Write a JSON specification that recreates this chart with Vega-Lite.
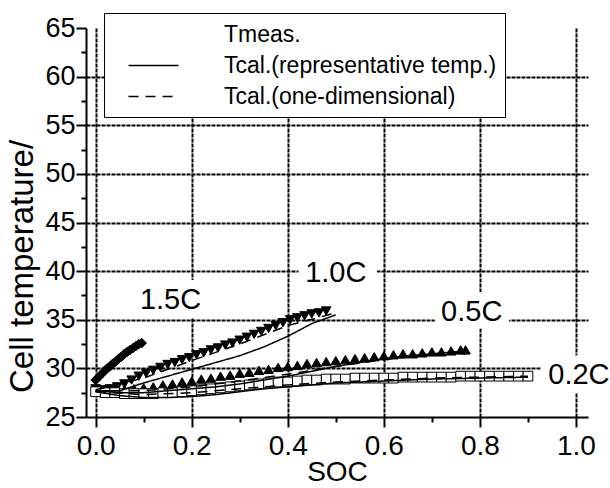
{
  "$schema": "https://vega.github.io/schema/vega-lite/v6.json",
  "width": 502,
  "height": 389,
  "autosize": {"type": "none"},
  "padding": {"left": 86, "top": 28, "right": 22, "bottom": 71},
  "background": "white",
  "config": {
    "font": "Liberation Sans",
    "view": {"stroke": null},
    "axis": {
      "domainColor": "black", "domainWidth": 2, "tickColor": "black", "tickWidth": 2,
      "labelColor": "black", "titleColor": "black", "titleFontWeight": "normal",
      "labelFont": "Liberation Sans", "titleFont": "Liberation Sans",
      "gridColor": "black", "gridWidth": 2, "gridDash": [4, 1], "gridOpacity": 1
    }
  },
  "resolve": {"axis": {"x": "independent", "y": "independent"}},
  "datasets": {
    "meas": [
      {"rate": "1.5C", "soc": 0.000, "T": 28.8},
      {"rate": "1.5C", "soc": 0.006, "T": 29.1},
      {"rate": "1.5C", "soc": 0.012, "T": 29.4},
      {"rate": "1.5C", "soc": 0.018, "T": 29.7},
      {"rate": "1.5C", "soc": 0.024, "T": 30.0},
      {"rate": "1.5C", "soc": 0.030, "T": 30.2},
      {"rate": "1.5C", "soc": 0.036, "T": 30.5},
      {"rate": "1.5C", "soc": 0.042, "T": 30.7},
      {"rate": "1.5C", "soc": 0.048, "T": 31.0},
      {"rate": "1.5C", "soc": 0.054, "T": 31.2},
      {"rate": "1.5C", "soc": 0.060, "T": 31.5},
      {"rate": "1.5C", "soc": 0.066, "T": 31.7},
      {"rate": "1.5C", "soc": 0.072, "T": 31.9},
      {"rate": "1.5C", "soc": 0.078, "T": 32.1},
      {"rate": "1.5C", "soc": 0.084, "T": 32.3},
      {"rate": "1.5C", "soc": 0.090, "T": 32.5},
      {"rate": "1.5C", "soc": 0.096, "T": 32.6},
      {"rate": "1.0C", "soc": 0.000, "T": 27.9},
      {"rate": "1.0C", "soc": 0.015, "T": 27.8},
      {"rate": "1.0C", "soc": 0.030, "T": 27.9},
      {"rate": "1.0C", "soc": 0.045, "T": 28.1},
      {"rate": "1.0C", "soc": 0.060, "T": 28.4},
      {"rate": "1.0C", "soc": 0.075, "T": 28.8},
      {"rate": "1.0C", "soc": 0.090, "T": 29.2},
      {"rate": "1.0C", "soc": 0.105, "T": 29.5},
      {"rate": "1.0C", "soc": 0.120, "T": 29.8},
      {"rate": "1.0C", "soc": 0.135, "T": 30.1},
      {"rate": "1.0C", "soc": 0.150, "T": 30.4},
      {"rate": "1.0C", "soc": 0.165, "T": 30.6},
      {"rate": "1.0C", "soc": 0.180, "T": 30.9},
      {"rate": "1.0C", "soc": 0.195, "T": 31.1},
      {"rate": "1.0C", "soc": 0.210, "T": 31.4},
      {"rate": "1.0C", "soc": 0.225, "T": 31.6},
      {"rate": "1.0C", "soc": 0.240, "T": 31.9},
      {"rate": "1.0C", "soc": 0.255, "T": 32.1},
      {"rate": "1.0C", "soc": 0.270, "T": 32.4},
      {"rate": "1.0C", "soc": 0.285, "T": 32.6},
      {"rate": "1.0C", "soc": 0.300, "T": 32.9},
      {"rate": "1.0C", "soc": 0.315, "T": 33.2},
      {"rate": "1.0C", "soc": 0.330, "T": 33.5},
      {"rate": "1.0C", "soc": 0.345, "T": 33.8},
      {"rate": "1.0C", "soc": 0.360, "T": 34.1},
      {"rate": "1.0C", "soc": 0.375, "T": 34.4},
      {"rate": "1.0C", "soc": 0.390, "T": 34.7},
      {"rate": "1.0C", "soc": 0.405, "T": 35.0},
      {"rate": "1.0C", "soc": 0.420, "T": 35.2},
      {"rate": "1.0C", "soc": 0.435, "T": 35.4},
      {"rate": "1.0C", "soc": 0.450, "T": 35.6},
      {"rate": "1.0C", "soc": 0.465, "T": 35.7},
      {"rate": "1.0C", "soc": 0.480, "T": 35.9},
      {"rate": "0.5C", "soc": 0.00, "T": 27.7},
      {"rate": "0.5C", "soc": 0.02, "T": 27.7},
      {"rate": "0.5C", "soc": 0.04, "T": 27.7},
      {"rate": "0.5C", "soc": 0.06, "T": 27.8},
      {"rate": "0.5C", "soc": 0.08, "T": 27.9},
      {"rate": "0.5C", "soc": 0.10, "T": 28.0},
      {"rate": "0.5C", "soc": 0.12, "T": 28.1},
      {"rate": "0.5C", "soc": 0.14, "T": 28.3},
      {"rate": "0.5C", "soc": 0.16, "T": 28.4},
      {"rate": "0.5C", "soc": 0.18, "T": 28.6},
      {"rate": "0.5C", "soc": 0.20, "T": 28.7},
      {"rate": "0.5C", "soc": 0.22, "T": 28.9},
      {"rate": "0.5C", "soc": 0.24, "T": 29.0},
      {"rate": "0.5C", "soc": 0.26, "T": 29.2},
      {"rate": "0.5C", "soc": 0.28, "T": 29.3},
      {"rate": "0.5C", "soc": 0.30, "T": 29.5},
      {"rate": "0.5C", "soc": 0.32, "T": 29.6},
      {"rate": "0.5C", "soc": 0.34, "T": 29.8},
      {"rate": "0.5C", "soc": 0.36, "T": 29.9},
      {"rate": "0.5C", "soc": 0.38, "T": 30.1},
      {"rate": "0.5C", "soc": 0.40, "T": 30.2},
      {"rate": "0.5C", "soc": 0.42, "T": 30.3},
      {"rate": "0.5C", "soc": 0.44, "T": 30.5},
      {"rate": "0.5C", "soc": 0.46, "T": 30.6},
      {"rate": "0.5C", "soc": 0.48, "T": 30.7},
      {"rate": "0.5C", "soc": 0.50, "T": 30.8},
      {"rate": "0.5C", "soc": 0.52, "T": 30.9},
      {"rate": "0.5C", "soc": 0.54, "T": 31.0},
      {"rate": "0.5C", "soc": 0.56, "T": 31.1},
      {"rate": "0.5C", "soc": 0.58, "T": 31.2},
      {"rate": "0.5C", "soc": 0.60, "T": 31.3},
      {"rate": "0.5C", "soc": 0.62, "T": 31.4},
      {"rate": "0.5C", "soc": 0.64, "T": 31.5},
      {"rate": "0.5C", "soc": 0.66, "T": 31.5},
      {"rate": "0.5C", "soc": 0.68, "T": 31.6},
      {"rate": "0.5C", "soc": 0.70, "T": 31.7},
      {"rate": "0.5C", "soc": 0.72, "T": 31.7},
      {"rate": "0.5C", "soc": 0.74, "T": 31.8},
      {"rate": "0.5C", "soc": 0.76, "T": 31.9},
      {"rate": "0.5C", "soc": 0.77, "T": 31.9},
      {"rate": "0.2C", "soc": 0.00, "T": 27.6},
      {"rate": "0.2C", "soc": 0.02, "T": 27.5},
      {"rate": "0.2C", "soc": 0.04, "T": 27.5},
      {"rate": "0.2C", "soc": 0.06, "T": 27.4},
      {"rate": "0.2C", "soc": 0.08, "T": 27.4},
      {"rate": "0.2C", "soc": 0.10, "T": 27.4},
      {"rate": "0.2C", "soc": 0.12, "T": 27.4},
      {"rate": "0.2C", "soc": 0.14, "T": 27.5},
      {"rate": "0.2C", "soc": 0.16, "T": 27.5},
      {"rate": "0.2C", "soc": 0.18, "T": 27.6},
      {"rate": "0.2C", "soc": 0.20, "T": 27.7},
      {"rate": "0.2C", "soc": 0.22, "T": 27.8},
      {"rate": "0.2C", "soc": 0.24, "T": 27.9},
      {"rate": "0.2C", "soc": 0.26, "T": 28.0},
      {"rate": "0.2C", "soc": 0.28, "T": 28.1},
      {"rate": "0.2C", "soc": 0.30, "T": 28.2},
      {"rate": "0.2C", "soc": 0.32, "T": 28.3},
      {"rate": "0.2C", "soc": 0.34, "T": 28.4},
      {"rate": "0.2C", "soc": 0.36, "T": 28.5},
      {"rate": "0.2C", "soc": 0.38, "T": 28.6},
      {"rate": "0.2C", "soc": 0.40, "T": 28.6},
      {"rate": "0.2C", "soc": 0.42, "T": 28.7},
      {"rate": "0.2C", "soc": 0.44, "T": 28.8},
      {"rate": "0.2C", "soc": 0.46, "T": 28.8},
      {"rate": "0.2C", "soc": 0.48, "T": 28.9},
      {"rate": "0.2C", "soc": 0.50, "T": 28.9},
      {"rate": "0.2C", "soc": 0.52, "T": 28.9},
      {"rate": "0.2C", "soc": 0.54, "T": 29.0},
      {"rate": "0.2C", "soc": 0.56, "T": 29.0},
      {"rate": "0.2C", "soc": 0.58, "T": 29.0},
      {"rate": "0.2C", "soc": 0.60, "T": 29.0},
      {"rate": "0.2C", "soc": 0.62, "T": 29.0},
      {"rate": "0.2C", "soc": 0.64, "T": 29.1},
      {"rate": "0.2C", "soc": 0.66, "T": 29.1},
      {"rate": "0.2C", "soc": 0.68, "T": 29.1},
      {"rate": "0.2C", "soc": 0.70, "T": 29.1},
      {"rate": "0.2C", "soc": 0.72, "T": 29.1},
      {"rate": "0.2C", "soc": 0.74, "T": 29.1},
      {"rate": "0.2C", "soc": 0.76, "T": 29.2},
      {"rate": "0.2C", "soc": 0.78, "T": 29.2},
      {"rate": "0.2C", "soc": 0.80, "T": 29.2},
      {"rate": "0.2C", "soc": 0.82, "T": 29.2},
      {"rate": "0.2C", "soc": 0.84, "T": 29.2},
      {"rate": "0.2C", "soc": 0.86, "T": 29.2},
      {"rate": "0.2C", "soc": 0.88, "T": 29.2},
      {"rate": "0.2C", "soc": 0.90, "T": 29.2}
    ],
    "calc": [
      {"rate": "1.5C", "method": "Tcal.(representative temp.)", "soc": 0.00, "T": 28.6},
      {"rate": "1.5C", "method": "Tcal.(representative temp.)", "soc": 0.05, "T": 30.8},
      {"rate": "1.5C", "method": "Tcal.(representative temp.)", "soc": 0.10, "T": 32.6},
      {"rate": "1.5C", "method": "Tcal.(one-dimensional)", "soc": 0.00, "T": 28.7},
      {"rate": "1.5C", "method": "Tcal.(one-dimensional)", "soc": 0.05, "T": 31.0},
      {"rate": "1.5C", "method": "Tcal.(one-dimensional)", "soc": 0.10, "T": 32.7},
      {"rate": "1.0C", "method": "Tcal.(representative temp.)", "soc": 0.00, "T": 27.7},
      {"rate": "1.0C", "method": "Tcal.(representative temp.)", "soc": 0.05, "T": 27.7},
      {"rate": "1.0C", "method": "Tcal.(representative temp.)", "soc": 0.10, "T": 28.5},
      {"rate": "1.0C", "method": "Tcal.(representative temp.)", "soc": 0.15, "T": 29.2},
      {"rate": "1.0C", "method": "Tcal.(representative temp.)", "soc": 0.20, "T": 29.9},
      {"rate": "1.0C", "method": "Tcal.(representative temp.)", "soc": 0.25, "T": 30.6},
      {"rate": "1.0C", "method": "Tcal.(representative temp.)", "soc": 0.30, "T": 31.3},
      {"rate": "1.0C", "method": "Tcal.(representative temp.)", "soc": 0.35, "T": 32.2},
      {"rate": "1.0C", "method": "Tcal.(representative temp.)", "soc": 0.40, "T": 33.3},
      {"rate": "1.0C", "method": "Tcal.(representative temp.)", "soc": 0.45, "T": 34.6},
      {"rate": "1.0C", "method": "Tcal.(representative temp.)", "soc": 0.50, "T": 35.5},
      {"rate": "1.0C", "method": "Tcal.(one-dimensional)", "soc": 0.00, "T": 27.8},
      {"rate": "1.0C", "method": "Tcal.(one-dimensional)", "soc": 0.10, "T": 29.0},
      {"rate": "1.0C", "method": "Tcal.(one-dimensional)", "soc": 0.20, "T": 30.8},
      {"rate": "1.0C", "method": "Tcal.(one-dimensional)", "soc": 0.30, "T": 32.5},
      {"rate": "1.0C", "method": "Tcal.(one-dimensional)", "soc": 0.40, "T": 34.4},
      {"rate": "1.0C", "method": "Tcal.(one-dimensional)", "soc": 0.50, "T": 35.7},
      {"rate": "0.5C", "method": "Tcal.(representative temp.)", "soc": 0.00, "T": 27.7},
      {"rate": "0.5C", "method": "Tcal.(representative temp.)", "soc": 0.05, "T": 27.5},
      {"rate": "0.5C", "method": "Tcal.(representative temp.)", "soc": 0.10, "T": 27.5},
      {"rate": "0.5C", "method": "Tcal.(representative temp.)", "soc": 0.15, "T": 27.7},
      {"rate": "0.5C", "method": "Tcal.(representative temp.)", "soc": 0.20, "T": 27.9},
      {"rate": "0.5C", "method": "Tcal.(representative temp.)", "soc": 0.25, "T": 28.1},
      {"rate": "0.5C", "method": "Tcal.(representative temp.)", "soc": 0.30, "T": 28.4},
      {"rate": "0.5C", "method": "Tcal.(representative temp.)", "soc": 0.35, "T": 28.8},
      {"rate": "0.5C", "method": "Tcal.(representative temp.)", "soc": 0.40, "T": 29.2},
      {"rate": "0.5C", "method": "Tcal.(representative temp.)", "soc": 0.45, "T": 29.7},
      {"rate": "0.5C", "method": "Tcal.(representative temp.)", "soc": 0.50, "T": 30.2},
      {"rate": "0.5C", "method": "Tcal.(representative temp.)", "soc": 0.55, "T": 30.6},
      {"rate": "0.5C", "method": "Tcal.(representative temp.)", "soc": 0.60, "T": 31.0},
      {"rate": "0.5C", "method": "Tcal.(representative temp.)", "soc": 0.65, "T": 31.3},
      {"rate": "0.5C", "method": "Tcal.(representative temp.)", "soc": 0.70, "T": 31.5},
      {"rate": "0.5C", "method": "Tcal.(representative temp.)", "soc": 0.77, "T": 31.8},
      {"rate": "0.5C", "method": "Tcal.(one-dimensional)", "soc": 0.00, "T": 27.7},
      {"rate": "0.5C", "method": "Tcal.(one-dimensional)", "soc": 0.10, "T": 27.7},
      {"rate": "0.5C", "method": "Tcal.(one-dimensional)", "soc": 0.20, "T": 28.1},
      {"rate": "0.5C", "method": "Tcal.(one-dimensional)", "soc": 0.30, "T": 28.7},
      {"rate": "0.5C", "method": "Tcal.(one-dimensional)", "soc": 0.40, "T": 29.4},
      {"rate": "0.5C", "method": "Tcal.(one-dimensional)", "soc": 0.50, "T": 30.2},
      {"rate": "0.5C", "method": "Tcal.(one-dimensional)", "soc": 0.60, "T": 30.9},
      {"rate": "0.5C", "method": "Tcal.(one-dimensional)", "soc": 0.70, "T": 31.4},
      {"rate": "0.5C", "method": "Tcal.(one-dimensional)", "soc": 0.77, "T": 31.7},
      {"rate": "0.2C", "method": "Tcal.(representative temp.)", "soc": 0.00, "T": 27.6},
      {"rate": "0.2C", "method": "Tcal.(representative temp.)", "soc": 0.05, "T": 27.2},
      {"rate": "0.2C", "method": "Tcal.(representative temp.)", "soc": 0.10, "T": 27.0},
      {"rate": "0.2C", "method": "Tcal.(representative temp.)", "soc": 0.15, "T": 27.0},
      {"rate": "0.2C", "method": "Tcal.(representative temp.)", "soc": 0.20, "T": 27.1},
      {"rate": "0.2C", "method": "Tcal.(representative temp.)", "soc": 0.25, "T": 27.3},
      {"rate": "0.2C", "method": "Tcal.(representative temp.)", "soc": 0.30, "T": 27.6},
      {"rate": "0.2C", "method": "Tcal.(representative temp.)", "soc": 0.35, "T": 27.9},
      {"rate": "0.2C", "method": "Tcal.(representative temp.)", "soc": 0.40, "T": 28.1},
      {"rate": "0.2C", "method": "Tcal.(representative temp.)", "soc": 0.45, "T": 28.3},
      {"rate": "0.2C", "method": "Tcal.(representative temp.)", "soc": 0.50, "T": 28.5},
      {"rate": "0.2C", "method": "Tcal.(representative temp.)", "soc": 0.60, "T": 28.7},
      {"rate": "0.2C", "method": "Tcal.(representative temp.)", "soc": 0.70, "T": 28.9},
      {"rate": "0.2C", "method": "Tcal.(representative temp.)", "soc": 0.80, "T": 29.0},
      {"rate": "0.2C", "method": "Tcal.(representative temp.)", "soc": 0.90, "T": 29.1},
      {"rate": "0.2C", "method": "Tcal.(one-dimensional)", "soc": 0.00, "T": 27.6},
      {"rate": "0.2C", "method": "Tcal.(one-dimensional)", "soc": 0.10, "T": 27.3},
      {"rate": "0.2C", "method": "Tcal.(one-dimensional)", "soc": 0.20, "T": 27.5},
      {"rate": "0.2C", "method": "Tcal.(one-dimensional)", "soc": 0.30, "T": 27.9},
      {"rate": "0.2C", "method": "Tcal.(one-dimensional)", "soc": 0.40, "T": 28.3},
      {"rate": "0.2C", "method": "Tcal.(one-dimensional)", "soc": 0.50, "T": 28.6},
      {"rate": "0.2C", "method": "Tcal.(one-dimensional)", "soc": 0.60, "T": 28.8},
      {"rate": "0.2C", "method": "Tcal.(one-dimensional)", "soc": 0.70, "T": 29.0},
      {"rate": "0.2C", "method": "Tcal.(one-dimensional)", "soc": 0.80, "T": 29.1},
      {"rate": "0.2C", "method": "Tcal.(one-dimensional)", "soc": 0.90, "T": 29.2}
    ],
    "labels": [
      {"label": "1.5C", "soc": 0.156, "T": 37.0},
      {"label": "1.0C", "soc": 0.50, "T": 39.8},
      {"label": "0.5C", "soc": 0.783, "T": 35.8},
      {"label": "0.2C", "soc": 1.006, "T": 29.3}
    ]
  },
  "layer": [
    {
      "data": {"name": "meas"},
      "mark": {"type": "point", "filled": true, "stroke": "black", "strokeWidth": 1, "opacity": 1},
      "encoding": {
        "x": {
          "field": "soc", "type": "quantitative",
          "scale": {"domain": [-0.02, 1.025], "nice": false, "zero": false},
          "axis": {
            "values": [0, 0.2, 0.4, 0.6, 0.8, 1.0], "format": ".1f",
            "labelFontSize": 28, "tickSize": 10, "labelPadding": 5,
            "title": "SOC", "titleFontSize": 28, "titlePadding": -2,
            "grid": true
          }
        },
        "y": {
          "field": "T", "type": "quantitative",
          "scale": {"domain": [25, 65], "nice": false, "zero": false},
          "axis": {
            "values": [25, 30, 35, 40, 45, 50, 55, 60, 65],
            "labelFontSize": 27, "tickSize": 10, "labelPadding": 1,
            "title": "Cell temperature/", "titleFontSize": 33,
            "titleAngle": 270, "titleAlign": "center", "titleBaseline": "middle",
            "titleX": -64, "titleY": 238,
            "grid": true,
            "gridOpacity": {"condition": {"test": "datum.value === 25 || datum.value === 65", "value": 0}, "value": 1}
          }
        },
        "shape": {
          "field": "rate", "type": "nominal",
          "scale": {"domain": ["1.5C", "1.0C", "0.5C", "0.2C"], "range": ["diamond", "triangle-down", "triangle-up", "square"]},
          "legend": null
        },
        "size": {
          "field": "rate", "type": "nominal",
          "scale": {"domain": ["1.5C", "1.0C", "0.5C", "0.2C"], "range": [90, 95, 90, 32]},
          "legend": null
        },
        "fill": {
          "condition": {"test": "datum.rate === '0.2C'", "value": "white"},
          "value": "black"
        }
      }
    },
    {
      "data": {"name": "labels"},
      "mark": {"type": "point", "opacity": 0},
      "encoding": {
        "x": {
          "field": "soc", "type": "quantitative",
          "axis": {
            "orient": "bottom", "values": [0.1, 0.3, 0.5, 0.7, 0.9], "labels": false,
            "domain": false, "grid": false, "tickSize": 5, "title": null
          }
        },
        "y": {
          "field": "T", "type": "quantitative",
          "axis": {
            "orient": "left", "values": [27.5, 32.5, 37.5, 42.5, 47.5, 52.5, 57.5, 62.5], "labels": false,
            "domain": false, "grid": false, "tickSize": 5, "title": null
          }
        }
      }
    },
    {
      "data": {"name": "calc"},
      "mark": {"type": "line", "color": "black", "strokeWidth": 1.5},
      "encoding": {
        "x": {"field": "soc", "type": "quantitative", "axis": null},
        "y": {"field": "T", "type": "quantitative", "axis": null},
        "detail": {"field": "rate", "type": "nominal"},
        "strokeDash": {
          "field": "method", "type": "nominal",
          "scale": {
            "domain": ["Tmeas.", "Tcal.(representative temp.)", "Tcal.(one-dimensional)"],
            "range": [[0, 1000], [1, 0], [10, 7]]
          },
          "legend": {
            "title": null, "orient": "none", "legendX": 18, "legendY": -15,
            "fillColor": "white", "strokeColor": "black", "padding": 8,
            "symbolType": "M-2,0H2", "symbolSize": 625, "symbolStrokeColor": "black",
            "symbolStrokeWidth": 1.5, "symbolOffset": 28, "labelOffset": 57,
            "labelFontSize": 23, "labelLimit": 0, "labelColor": "black",
            "rowPadding": 5, "labelFont": "Liberation Sans"
          }
        }
      }
    },
    {
      "data": {"name": "labels"},
      "mark": {"type": "text", "fontSize": 29, "font": "Liberation Sans", "align": "center", "baseline": "middle", "fill": "white", "stroke": "white", "strokeWidth": 18},
      "encoding": {
        "x": {"field": "soc", "type": "quantitative", "axis": null},
        "y": {"field": "T", "type": "quantitative", "axis": null},
        "text": {"field": "label"}
      }
    },
    {
      "data": {"name": "labels"},
      "mark": {"type": "text", "fontSize": 29, "font": "Liberation Sans", "align": "center", "baseline": "middle", "fill": "black"},
      "encoding": {
        "x": {"field": "soc", "type": "quantitative", "axis": null},
        "y": {"field": "T", "type": "quantitative", "axis": null},
        "text": {"field": "label"}
      }
    }
  ]
}
